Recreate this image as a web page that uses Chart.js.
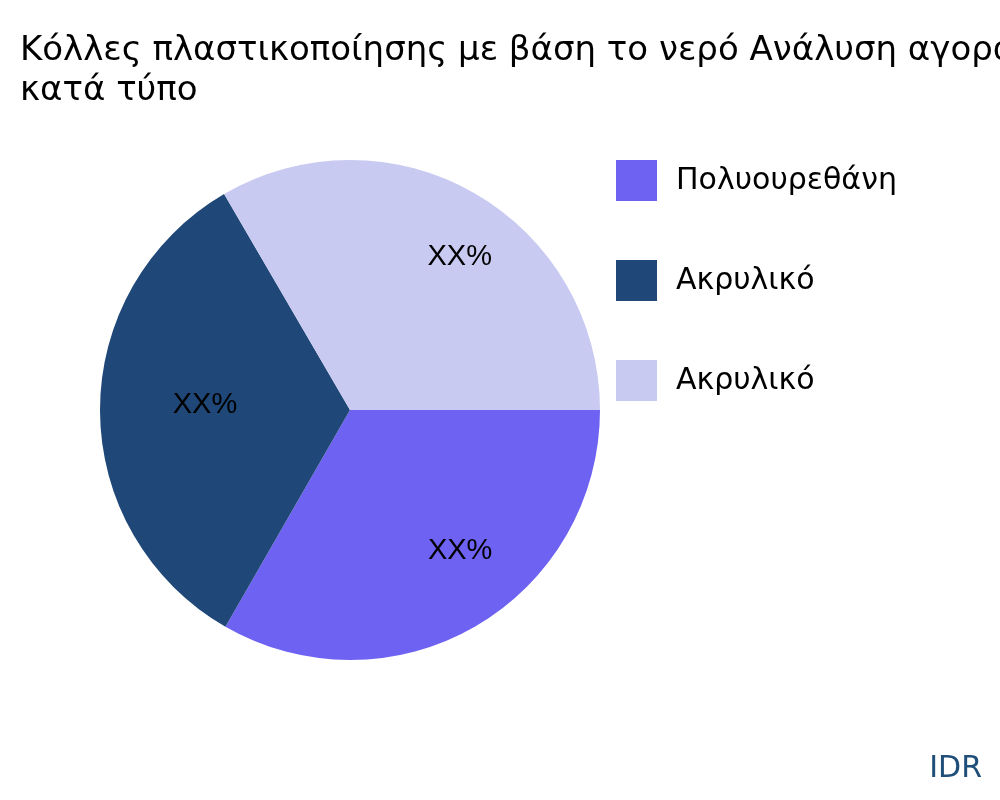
<!DOCTYPE html>
<html><head><meta charset="utf-8">
<script src="https://cdn.jsdelivr.net/npm/chart.js@4"></script>
<style>html,body{margin:0;padding:0;background:#fff;overflow:hidden}</style>
</head><body>
<div style="width:1000px;height:800px"><canvas id="c" width="1000" height="800"></canvas></div>
<script>
const categories = ["Πολυουρεθάνη", "Ακρυλικό", "Ακρυλικό"];
const values = [33.3, 33.3, 33.4];
const sliceLabels = ["XX%", "XX%", "XX%"];
const colors = ["#6e62f2", "#1f4878", "#c8caf1"];
const titleLines = ["Κόλλες πλαστικοποίησης με βάση το νερό Ανάλυση αγοράς", "κατά τύπο"];

const overlay = {
  id: 'overlay',
  afterDraw(chart) {
    const ctx = chart.ctx;
    ctx.save();
    ctx.fillStyle = '#000';
    ctx.font = '34px "DejaVu Sans"';
    ctx.textBaseline = 'alphabetic';
    ctx.textAlign = 'left';
    ctx.fillText(titleLines[0], 20, 60);
    ctx.fillText(titleLines[1], 20, 100);
    const meta = chart.getDatasetMeta(0);
    ctx.font = '29px "Liberation Sans"';
    ctx.textAlign = 'center'; ctx.textBaseline = 'middle';
    meta.data.forEach((arc, i) => {
      const a = (arc.startAngle + arc.endAngle) / 2;
      const r = arc.outerRadius * 0.68;
      ctx.fillText(sliceLabels[i], arc.x + Math.cos(a) * r + 25, arc.y + Math.sin(a) * r - 6);
    });
    ctx.textAlign = 'left';
    ctx.font = '30px "DejaVu Sans"';
    categories.forEach((c, i) => {
      const y = 160 + i * 100;
      ctx.fillStyle = colors[i];
      ctx.fillRect(616, y, 41, 41);
      ctx.fillStyle = '#000';
      ctx.fillText(c, 676, y + 21);
    });
    ctx.fillStyle = '#1f4e79';
    ctx.textAlign = 'right';
    ctx.fillText('IDR', 982, 769);
    ctx.restore();
  }
};

new Chart(document.getElementById('c'), {
  type: 'pie',
  data: { labels: categories, datasets: [{ data: values, backgroundColor: colors, borderWidth: 0 }] },
  options: {
    responsive: false, animation: false, rotation: 90,
    layout: { padding: { left: 100, right: 400, top: 160, bottom: 140 } },
    plugins: { legend: { display: false }, tooltip: { enabled: false } }
  },
  plugins: [overlay]
});
</script>
</body></html>
